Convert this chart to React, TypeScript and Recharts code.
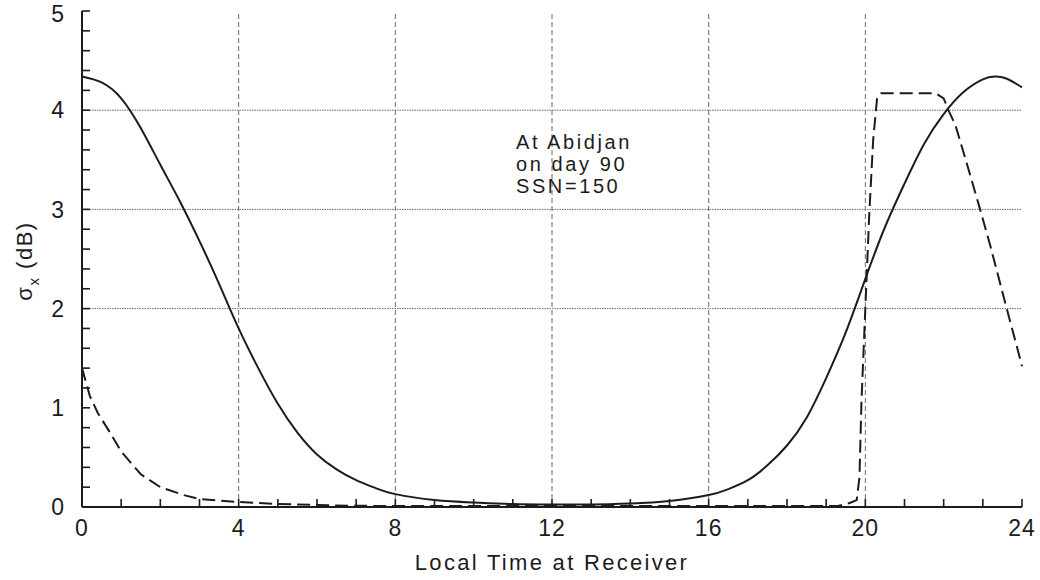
import { LineChart, Line, XAxis, YAxis, ReferenceLine, ReferenceDot } from 'recharts';

// solid curve: sigma_x vs local time
const SOLID_T = [0, 0.5, 1.0, 1.5, 2.0, 2.5, 3.0, 3.5, 4.0, 4.5, 5.0, 5.5, 6.0, 6.5, 7.0, 7.5, 8.0, 9, 10, 11, 12, 13, 14, 15, 16, 16.5, 17, 17.5, 18, 18.5, 19, 19.5, 20, 20.5, 21, 21.5, 22, 22.5, 23, 23.3, 23.6, 24];
const SOLID_V = [4.34, 4.28, 4.12, 3.82, 3.45, 3.08, 2.68, 2.25, 1.8, 1.4, 1.04, 0.75, 0.53, 0.38, 0.27, 0.19, 0.13, 0.07, 0.045, 0.03, 0.025, 0.025, 0.035, 0.06, 0.12, 0.18, 0.27, 0.42, 0.62, 0.9, 1.3, 1.76, 2.3, 2.82, 3.26, 3.66, 3.96, 4.18, 4.31, 4.34, 4.32, 4.23];

// dashed curve
const DASH_T = [0, 0.2, 0.4, 0.7, 1.0, 1.5, 2.0, 2.6, 3.0, 4.0, 5, 6, 7, 8, 10, 12, 14, 16, 18, 19.3, 19.6, 19.78, 19.85, 19.9, 20.0, 20.1, 20.2, 20.3, 20.4, 21.8, 22.0, 22.12, 22.3, 22.6, 22.93, 23.2, 23.61, 23.8, 24];
const DASH_V = [1.4, 1.12, 0.95, 0.76, 0.56, 0.33, 0.2, 0.12, 0.08, 0.05, 0.03, 0.02, 0.012, 0.01, 0.01, 0.01, 0.01, 0.01, 0.01, 0.01, 0.04, 0.07, 0.3, 1.05, 2.0, 2.95, 3.7, 4.12, 4.17, 4.17, 4.12, 4.0, 3.85, 3.45, 3.0, 2.62, 2.0, 1.72, 1.42];

const X_TICKS = [0, 1, 2, 3, 4, 5, 6, 7, 8, 9, 10, 11, 12, 13, 14, 15, 16, 17, 18, 19, 20, 21, 22, 23, 24];
const X_MAJOR = [0, 4, 8, 12, 16, 20, 24];
const Y_TICKS = [0, 0.2, 0.4, 0.6, 0.8, 1, 1.2, 1.4, 1.6, 1.8, 2, 2.2, 2.4, 2.6, 2.8, 3, 3.2, 3.4, 3.6, 3.8, 4, 4.2, 4.4, 4.6, 4.8, 5];
const Y_MAJOR = [0, 1, 2, 3, 4, 5];
const H_GRID = [2, 3, 4];
const V_GRID = [4, 8, 12, 16, 20];
const NOTE = ['At Abidjan', 'on day 90', 'SSN=150'];
const NOTE_AT = { t: 11.08, v: 3.61 };

const solidData = SOLID_T.map((t, i) => ({ t, v: SOLID_V[i] }));
const dashData = DASH_T.map((t, i) => ({ t, v: DASH_V[i] }));

const INK = '#1c1c1c';
const GRIDC = '#6a6a6a';
const FONT = '"Liberation Sans", Arial, Helvetica, sans-serif';
const TICK = { fill: INK, fontSize: 23, fontFamily: FONT, letterSpacing: 1 };
const AXLINE = { stroke: INK, strokeWidth: 2 };
const TLINE = { stroke: INK, strokeWidth: 1.6 };

const none = () => '';

// left tick labels; only whole numbers get text, the top one nudged down to stay inside the frame
function YTick(props: any) {
  const { x, y, payload } = props;
  const v = payload.value;
  if (!Y_MAJOR.includes(v)) return <g />;
  const shift = v === 5 ? 3 : 0;
  return (
    <text x={x} y={y + shift} dy="0.36em" textAnchor="end" fill={INK} fontFamily={FONT}
      fontSize={23} letterSpacing={1}>
      {v}
    </text>
  );
}

function YTitle(props: any) {
  const vb = props.viewBox || { x: 22, y: 11, width: 60, height: 496 };
  const cx = vb.x + 10;
  const cy = vb.y + vb.height / 2 + 2;
  return (
    <text transform={`translate(${cx}, ${cy}) rotate(-90)`} textAnchor="middle" fill={INK}
      fontFamily={FONT} fontSize={22} letterSpacing={1.5}>
      σ<tspan dy={7} fontSize={15}>x</tspan><tspan dy={-7}> (dB)</tspan>
    </text>
  );
}

function XTitle(props: any) {
  const vb = props.viewBox || { x: 82, y: 507, width: 940, height: 60 };
  return (
    <text x={vb.x + vb.width / 2} y={vb.y + 63} textAnchor="middle" fill={INK}
      fontFamily={FONT} fontSize={22} letterSpacing={2.3}>
      Local Time at Receiver
    </text>
  );
}

function Note(props: any) {
  const { cx, cy } = props;
  return (
    <text x={cx} y={cy} fill={INK} fontFamily={FONT} fontSize={20} letterSpacing={2.6}>
      {NOTE.map((s, i) => (
        <tspan key={i} x={cx} dy={i === 0 ? 0 : 22}>{s}</tspan>
      ))}
    </text>
  );
}

export default function App() {
  return (
    <div style={{ position: 'absolute', left: 0, top: 0, width: 1040, height: 580, background: '#fff' }}>
      <LineChart width={1040} height={580} margin={{ top: 11, right: 18, bottom: 13, left: 22 }}>
        <XAxis xAxisId="b" dataKey="t" type="number" domain={[0, 24]} ticks={X_TICKS} interval={0}
          tickFormatter={(v) => (X_MAJOR.includes(v) ? String(v) : '')}
          tickSize={-8} tickMargin={21} axisLine={AXLINE} tickLine={TLINE} tick={TICK} height={60}
          label={<XTitle />} />
        <XAxis xAxisId="t" orientation="top" dataKey="t" type="number" domain={[0, 24]} ticks={X_TICKS}
          interval={0} tickFormatter={none} tickSize={-8} axisLine={AXLINE} tickLine={TLINE} height={0} />
        <YAxis yAxisId="l" type="number" domain={[0, 5]} ticks={Y_TICKS} interval={0}
          tickSize={-8} tickMargin={25} axisLine={AXLINE} tickLine={TLINE} tick={<YTick />} width={60}
          label={<YTitle />} />
        <YAxis yAxisId="r" orientation="right" type="number" domain={[0, 5]} ticks={Y_TICKS} interval={0}
          tickFormatter={none} tickSize={-8} axisLine={AXLINE} tickLine={TLINE} width={0} />

        {H_GRID.map((v) => (
          <ReferenceLine key={'h' + v} xAxisId="b" yAxisId="l" y={v} stroke={GRIDC} strokeWidth={1}
            strokeDasharray="1.5 1" />
        ))}
        {V_GRID.map((t) => (
          <ReferenceLine key={'v' + t} xAxisId="b" yAxisId="l" x={t} stroke={GRIDC} strokeWidth={1}
            strokeDasharray="5 3" />
        ))}

        <Line xAxisId="b" yAxisId="l" data={solidData} dataKey="v" type="natural" stroke={INK}
          strokeWidth={2} dot={false} isAnimationActive={false} />
        <Line xAxisId="t" yAxisId="r" data={dashData} dataKey="v" type="linear" stroke={INK}
          strokeWidth={2} strokeDasharray="13 6" dot={false} isAnimationActive={false} />

        <ReferenceDot xAxisId="b" yAxisId="l" x={NOTE_AT.t} y={NOTE_AT.v} r={0} shape={<Note />} />
      </LineChart>
    </div>
  );
}
